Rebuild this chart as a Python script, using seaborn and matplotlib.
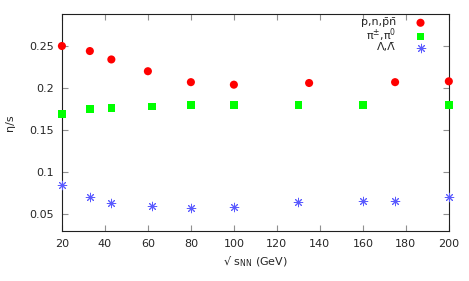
import pandas as pd
import seaborn as sns
import matplotlib.pyplot as plt

# data
x_nuc = [20, 33, 43, 60, 80, 100, 135, 175, 200]
eta_nuc = [0.250, 0.244, 0.234, 0.220, 0.207, 0.204, 0.206, 0.207, 0.208]

x_pi = [20, 33, 43, 62, 80, 100, 130, 160, 200]
eta_pi = [0.169, 0.175, 0.176, 0.178, 0.180, 0.180, 0.180, 0.180, 0.180]

x_lam = [20, 33, 43, 62, 80, 100, 130, 160, 175, 200]
eta_lam = [0.085, 0.070, 0.063, 0.0595, 0.057, 0.0586, 0.064, 0.0654, 0.066, 0.070]

labels = ['p,n,p\u0304n\u0304', r'π$^\mathregular{\pm}$,π$^\mathregular{0}$', 'Λ,Λ\u0304']

sns.set_style('ticks')
plt.rcParams['font.family'] = ['DejaVu Sans']
plt.rcParams['font.size'] = 8

fig = plt.figure(figsize=(4.69, 2.81), dpi=100)
ax = fig.add_axes([0.132, 0.178, 0.825, 0.772])

df_nuc = pd.DataFrame({'x': x_nuc, 'y': eta_nuc})
df_pi = pd.DataFrame({'x': x_pi, 'y': eta_pi})
df_lam = pd.DataFrame({'x': x_lam, 'y': eta_lam})

sns.scatterplot(data=df_nuc, x='x', y='y', ax=ax, marker='o', s=34,
                color='#ff0000', edgecolor='none', label=labels[0], clip_on=False, zorder=3)
sns.scatterplot(data=df_pi, x='x', y='y', ax=ax, marker='s', s=30,
                color='#00ff00', edgecolor='none', label=labels[1], clip_on=False, zorder=3)
sns.scatterplot(data=df_lam, x='x', y='y', ax=ax, marker=(8, 2, 0), s=38,
                color='#5a5aff', linewidth=0.7, label=labels[2], clip_on=False, zorder=3)

ax.set_xlim(20, 200)
ax.set_ylim(0.03, 0.288)
ax.set_xticks(range(20, 201, 20))
ax.set_yticks([0.05, 0.1, 0.15, 0.2, 0.25])
ax.set_yticklabels(['0.05', '0.1', '0.15', '0.2', '0.25'])
ax.tick_params(direction='in', top=True, right=True, length=4, width=0.8,
               color='#909090', labelsize=8, pad=6)
for s in ax.spines.values():
    s.set_visible(True)
    s.set_color('#202020')
    s.set_linewidth(0.8)

ax.set_xlabel(r'√ s$_\mathregular{NN}$ (GeV)', fontsize=8)
ax.set_ylabel('η/s', fontsize=8, labelpad=10)

leg = ax.legend(loc='upper right', bbox_to_anchor=(0.967, 1.005), frameon=False,
                markerfirst=False, fontsize=8, handletextpad=1.2, labelspacing=-0.12,
                borderaxespad=0.0, handleheight=0.6)
for t in leg.get_texts():
    t.set_ha('right')

fig.savefig('out.png', dpi=100)
